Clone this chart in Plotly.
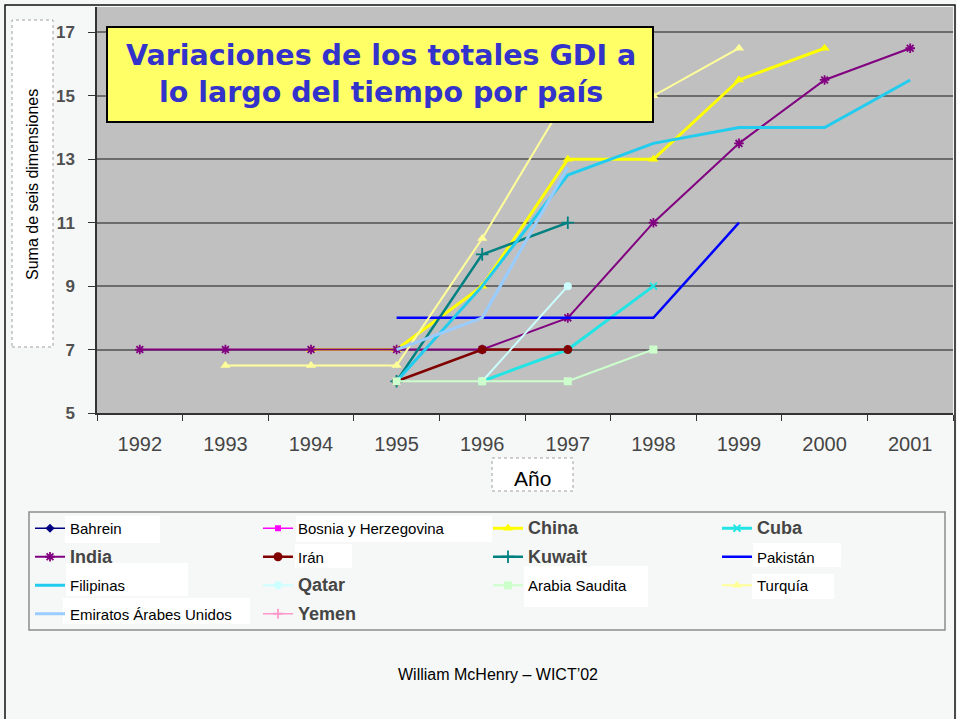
import plotly.graph_objects as go

# ---------------- data ----------------
YEARS = ["1992", "1993", "1994", "1995", "1996", "1997", "1998", "1999", "2000", "2001"]
Y_TICKS = [5, 7, 9, 11, 13, 15, 17]

BAHREIN        = [None, None, None, None, None, None, None, None, None, None]
BOSNIA         = [None, None, None, None, None, None, None, None, None, None]
CHINA          = [None, None, 7, 7, 9, 13, 13, 15.5, 16.5, None]
CUBA           = [None, None, None, None, 6, 7, 9, None, None, None]
INDIA          = [7, 7, 7, 7, 7, 8, 11, 13.5, 15.5, 16.5]
IRAN           = [None, None, None, 6, 7, 7, None, None, None, None]
KUWAIT         = [None, None, None, 6, 10, 11, None, None, None, None]
PAKISTAN       = [None, None, None, 8, 8, 8, 8, 11, None, None]
FILIPINAS      = [None, None, None, 6, 9, 12.5, 13.5, 14, 14, 15.5]
QATAR          = [None, None, None, None, 6, 9, None, None, None, None]
ARABIA_SAUDITA = [None, None, None, 6, 6, 6, 7, None, None, None]
TURQUIA        = [None, 6.5, 6.5, 6.5, 10.5, 15, 15, 16.5, None, None]
EMIRATOS       = [None, None, None, 7, 8, 12.75, None, None, None, None]
YEMEN          = [None, None, None, None, None, None, None, None, None, None]

TITLE = "Variaciones de los totales GDI a<br>lo largo del tiempo por país"
Y_LABEL = "Suma de seis dimensiones"
X_LABEL = "Año"
FOOTER = "William McHenry – WICT’02"

# ---------------- geometry helpers ----------------
W, H = 957, 719
L, R, T, B = 97, 4, 7, 306
PW = W - L - R
PH = H - T - B


def px(x):
    return (x - L) / PW


def py(y):
    return (H - B - y) / PH


ARIAL = "Liberation Sans, Arial, sans-serif"


def orig(label):
    return "<span style='font-size:18px;color:#454545'><b>%s</b></span>" % label


# name, values, color, line width, marker symbol (None = lines only), marker size
SERIES = [
    ("Bahrein", BAHREIN, "#000080", 1.5, "diamond", 7),
    ("Bosnia y Herzegovina", BOSNIA, "#FF00FF", 1.5, "square", 6),
    (orig("China"), CHINA, "#FFFF00", 3, "triangle-up", 9),
    (orig("Cuba"), CUBA, "#22E4E4", 3, "x-thin-open", 7),
    (orig("India"), INDIA, "#800080", 2, "asterisk-open", 8),
    ("Irán", IRAN, "#800000", 2.5, "circle", 9),
    (orig("Kuwait"), KUWAIT, "#008080", 2.5, "cross-thin-open", 9),
    ("Pakistán", PAKISTAN, "#0000FF", 2.5, None, 0),
    ("Filipinas", FILIPINAS, "#22CCEE", 3, None, 0),
    (orig("Qatar"), QATAR, "#CCFFFF", 2, "circle", 8),
    ("Arabia Saudita", ARABIA_SAUDITA, "#CCFFCC", 2, "square", 8),
    ("Turquía", TURQUIA, "#FFFF99", 2, "triangle-up", 9),
    ("Emiratos Árabes Unidos", EMIRATOS, "#99CCFF", 3, None, 0),
    (orig("Yemen"), YEMEN, "#FF99CC", 1.5, "cross-thin-open", 7),
]

LEGENDS = ["legend", "legend2", "legend3", "legend4"]

fig = go.Figure()
for i, (name, vals, color, lw, sym, msize) in enumerate(SERIES):
    kw = dict(
        x=YEARS, y=vals, name=name, legend=LEGENDS[i % 4], legendgroup="g%d" % i,
        line=dict(color=color, width=lw), hoverinfo="skip", connectgaps=False,
    )
    if sym is None:
        kw["mode"] = "lines"
    else:
        kw["mode"] = "lines+markers"
        if sym.endswith("-open"):
            kw["marker"] = dict(symbol=sym, size=msize, color=color, line=dict(color=color, width=1.8))
        else:
            kw["marker"] = dict(symbol=sym, size=msize, color=color, line=dict(width=0))
    fig.add_trace(go.Scatter(**kw))

# ---------------- decorations ----------------
shapes = []


def rect(x0, y0, x1, y1, fill="rgba(0,0,0,0)", line_color="rgba(0,0,0,0)", lw=0, dash="solid", layer="above"):
    shapes.append(dict(type="rect", xref="paper", yref="paper",
                       x0=px(x0), x1=px(x1), y0=py(y1), y1=py(y0),
                       fillcolor=fill, line=dict(color=line_color, width=lw, dash=dash), layer=layer))


# slide frame
rect(5, 5, 955, 740, line_color="#111111", lw=1.5)
# title box
rect(107, 27, 653, 122, fill="#FFFF66", line_color="#000000", lw=2)
# y label box / x label box
rect(12, 20, 53, 347, fill="#FFFFFF", line_color="#A0A0A0", lw=1, dash="dot")
rect(492, 458, 573, 491, fill="#FFFFFF", line_color="#A0A0A0", lw=1, dash="dot")
# legend frame
rect(29, 512, 945, 630, line_color="#8C8C8C", lw=1.5)
# white label patches
for (a, b_, c, d) in [(65, 516, 160, 543), (296, 516, 492, 542), (295, 544, 352, 568),
                      (66, 563, 188, 596), (63, 598, 250, 624), (753, 543, 841, 567),
                      (524, 566, 648, 607), (752, 574, 834, 599)]:
    rect(a, b_, c, d, fill="#FFFFFF")

annotations = [
    dict(text="<b>%s</b>" % TITLE, x=px(381), y=py(74), xref="paper", yref="paper",
         xanchor="center", yanchor="middle", showarrow=False,
         font=dict(family="DejaVu Sans, Verdana, sans-serif", size=28.5, color="#3333CC")),
    dict(text=Y_LABEL, x=px(32), y=py(185), xref="paper", yref="paper", textangle=-90,
         xanchor="center", yanchor="middle", showarrow=False,
         font=dict(family=ARIAL, size=16, color="#000000")),
    dict(text=X_LABEL, x=px(532), y=py(478), xref="paper", yref="paper",
         xanchor="center", yanchor="middle", showarrow=False,
         font=dict(family=ARIAL, size=21, color="#000000")),
    dict(text=FOOTER, x=px(498), y=py(674), xref="paper", yref="paper",
         xanchor="center", yanchor="middle", showarrow=False,
         font=dict(family=ARIAL, size=16, color="#000000")),
]

legend_cols_px = [30, 258, 488, 717]
legend_common = dict(orientation="v", xanchor="left", yanchor="top", y=py(512),
                     bgcolor="rgba(0,0,0,0)", borderwidth=0, tracegroupgap=6,
                     font=dict(family=ARIAL, size=15, color="#000000"),
                     itemclick=False, itemdoubleclick=False)
legend_layout = {}
for name, cx in zip(LEGENDS, legend_cols_px):
    legend_layout[name] = dict(x=px(cx), **legend_common)

fig.update_layout(
    width=W, height=H,
    margin=dict(l=L, r=R, t=T, b=B, pad=0, autoexpand=False),
    paper_bgcolor="#F6F8F7", plot_bgcolor="#C0C0C0",
    showlegend=True,
    xaxis=dict(type="category", categoryorder="array", categoryarray=YEARS,
               range=[-0.5, len(YEARS) - 0.5], tickson="boundaries",
               ticks="outside", ticklen=6, tickwidth=1.2, tickcolor="#333333",
               showline=True, linecolor="#333333", linewidth=1.5, showgrid=False,
               tickfont=dict(family=ARIAL, size=20, color="#454545"),
               ticklabelstandoff=12, fixedrange=True),
    yaxis=dict(range=[5, 17.8], tickvals=Y_TICKS, ticks="outside", ticklen=7,
               tickwidth=1.2, tickcolor="#333333",
               showline=True, linecolor="#333333", linewidth=1.5,
               showgrid=True, gridcolor="#6C6C6C", gridwidth=1.8, zeroline=False,
               tickfont=dict(family=ARIAL, size=17, color="#505050", weight="bold"),
               ticklabelstandoff=10, fixedrange=True),
    shapes=shapes, annotations=annotations,
    **legend_layout,
)

fig.write_html(
    "out.html",
    config={"displayModeBar": False},
    post_script="document.body.style.margin='0px';document.body.style.overflow='hidden';",
)
